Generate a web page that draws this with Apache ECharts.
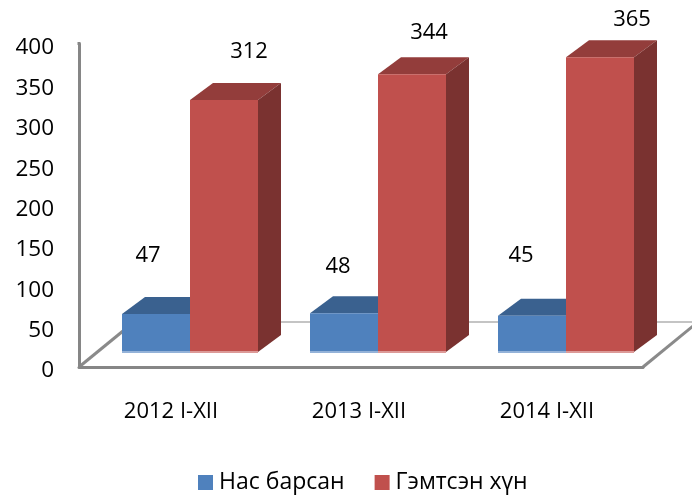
<!DOCTYPE html>
<html>
<head>
<meta charset="utf-8">
<style>html,body{margin:0;padding:0;background:#fff}#c{width:692px;height:496px}</style>
<script src="https://cdn.jsdelivr.net/npm/echarts@6/dist/echarts.min.js"></script>
</head>
<body>
<div id="c"></div>
<script>
const categories = ['2012 I-XII', '2013 I-XII', '2014 I-XII'];
const deaths = [47, 48, 45];
const injured = [312, 344, 365];
const seriesNames = ['Нас барсан', 'Гэмтсэн хүн'];
const yTicks = [0, 400, 50];

const FONT = '"Open Sans", "Noto Sans", sans-serif';
const BAR_W = 68, DX = 23, DY = 17, PLANE_X = 17, PLANE_Y = 15;
const deathLabelShift = [[-8, 58], [-6, 47], [-11, 60]];
const injuredLabelShift = [[25, 48], [17, 41], [32, 38]];

function bar3d(kind, labelShift, front, top, side, edge) {
  return function (params, api) {
    const i = api.value(0), v = api.value(1);
    const p0 = api.coord([i, 0]), p1 = api.coord([i, v]);
    const cx = p0[0] + PLANE_X;
    const x0 = kind === 0 ? cx - BAR_W : cx, x1 = x0 + BAR_W;
    const yb = p0[1] - PLANE_Y, yt = p1[1] - PLANE_Y;
    const shift = labelShift[i];
    return {
      type: 'group',
      children: [
        { type: 'polygon', shape: { points: [[x0, yt], [x0 + DX, yt - DY], [x1 + DX, yt - DY], [x1, yt]] }, style: { fill: top } },
        { type: 'polygon', shape: { points: [[x1, yt], [x1 + DX, yt - DY], [x1 + DX, yb - DY], [x1, yb]] }, style: { fill: side } },
        { type: 'rect', shape: { x: x0, y: yt, width: BAR_W, height: yb - yt }, style: { fill: front } },
        { type: 'rect', shape: { x: x0, y: yb - 1, width: BAR_W, height: 2 }, style: { fill: edge } },
        { type: 'text', x: (x0 + x1) / 2 + shift[0], y: yt - shift[1], style: { text: String(v), fill: '#000', font: '22px ' + FONT, align: 'center', verticalAlign: 'middle' } }
      ]
    };
  };
}

const chart = echarts.init(document.getElementById('c'), null, { renderer: 'canvas' });
chart.setOption({
  animation: false,
  backgroundColor: '#fff',
  grid: { left: 79, right: 49, top: 44, bottom: 129, containLabel: false },
  xAxis: {
    type: 'category',
    data: categories,
    axisLine: { lineStyle: { color: '#868686', width: 3 } },
    axisTick: { show: false },
    axisLabel: { color: '#000', fontFamily: FONT, fontSize: 22, margin: 33, padding: [1, 4, 0, 0] }
  },
  yAxis: {
    type: 'value',
    min: yTicks[0], max: yTicks[1], interval: yTicks[2],
    axisLine: { show: true, lineStyle: { color: '#868686', width: 3 } },
    axisTick: { show: false },
    splitLine: { show: false },
    axisLabel: { color: '#000', fontFamily: FONT, fontSize: 22.5, margin: 25, verticalAlign: 'top', lineHeight: 8 }
  },
  legend: {
    left: 193, top: 466,
    icon: 'rect', itemWidth: 15, itemHeight: 15, itemGap: 30,
    textStyle: { color: '#000', fontFamily: FONT, fontSize: 23, padding: [0, 0, 0, 1] },
    data: seriesNames
  },
  graphic: [
    { type: 'polyline', z: 0, shape: { points: [[134, 322], [698, 322]] }, style: { stroke: '#c4c4c4', lineWidth: 2, fill: null } },
    { type: 'polyline', z: 0, shape: { points: [[79, 367], [134, 322]] }, style: { stroke: '#8a8a8a', lineWidth: 3, fill: null } },
    { type: 'polyline', z: 0, shape: { points: [[643, 367], [698, 322]] }, style: { stroke: '#8a8a8a', lineWidth: 3, fill: null } },
    { type: 'polyline', z: 0, shape: { points: [[79, 42], [79, 45]] }, style: { stroke: '#868686', lineWidth: 3, fill: null } }
  ],
  series: [
    { name: seriesNames[0], type: 'custom', itemStyle: { color: '#4F81BD' },
      encode: { x: 0, y: 1 }, z: 3,
      renderItem: bar3d(0, deathLabelShift, '#4F81BD', '#3A618F', '#375a85', '#94b2d8'),
      data: deaths.map((v, i) => [i, v]) },
    { name: seriesNames[1], type: 'custom', itemStyle: { color: '#C0504D' },
      encode: { x: 0, y: 1 }, z: 4,
      renderItem: bar3d(1, injuredLabelShift, '#C0504D', '#933D3B', '#7A3230', '#dc9a98'),
      data: injured.map((v, i) => [i, v]) }
  ]
});
</script>
</body>
</html>
